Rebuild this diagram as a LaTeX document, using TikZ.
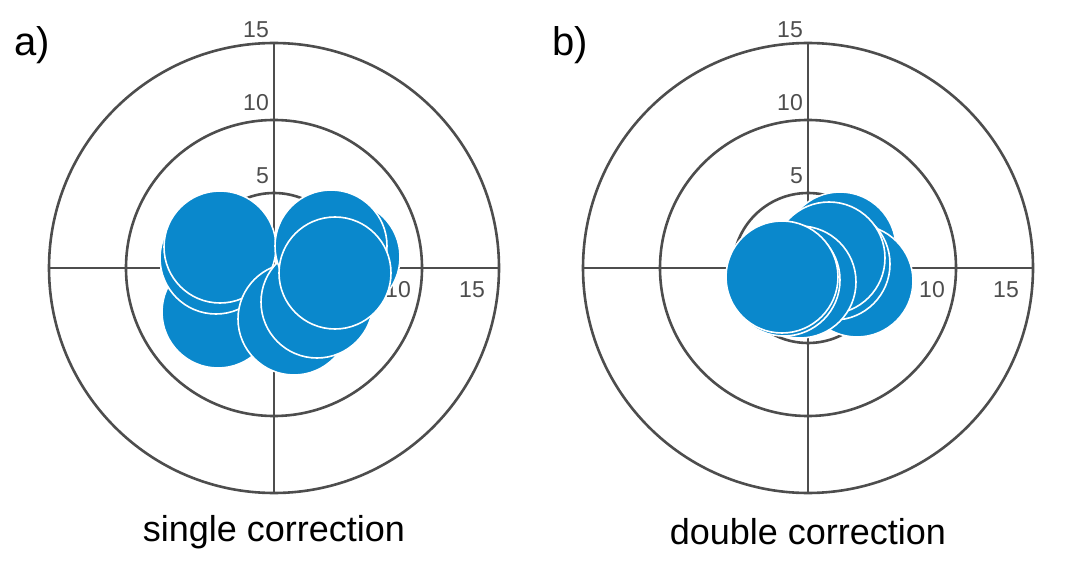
\documentclass[tikz,border=0pt]{standalone}
\usepackage{fontspec}
\setmainfont{Liberation Sans}
\usetikzlibrary{calc}
\definecolor{ax}{HTML}{4D4D4D}
\definecolor{dot}{HTML}{0A88CC}
\begin{document}
\begin{tikzpicture}[x=1pt,y=-1pt,
  ring/.style={draw=ax,line width=2.6pt},
  bub/.style={fill=dot,draw=white,line width=1.6pt},
  tick/.style={text=ax,font=\fontsize{23}{23}\selectfont,inner sep=0pt},
  ttl/.style={font=\fontsize{36}{36}\selectfont,inner sep=0pt}]
\useasboundingbox (0,0) rectangle (1073,561);
\foreach \cx/\nm in {274/L,808/R}{
  \coordinate (\nm c) at (\cx,268);
  \draw[ring] (\nm c) circle (225) (\nm c) circle (148) (\nm c) circle (75);
  \draw[ring] ($(\nm c)+(0,-225)$) -- ($(\nm c)+(0,225)$);
  \draw[ring] ($(\nm c)+(-225,0)$) -- ($(\nm c)+(225,0)$);
  \node[tick,anchor=east] (\nm t15) at ($(\nm c)+(-5,-238)$) {15};
  \node[tick,anchor=east] (\nm t10) at ($(\nm c)+(-5,-165)$) {10};
  \node[tick,anchor=east] (\nm t5) at ($(\nm c)+(-5,-92)$) {5};
  \node[tick] (\nm r15) at ($(\nm c)+(198,22)$) {15};
  \node[tick] (\nm r10) at ($(\nm c)+(124,22)$) {10};
}
% left bubbles
\foreach \x/\y in {218/312,216/258,220/247,294/319,317/302,344/257,331/246,335/273}
  \draw[bub] (\x,\y) circle (56);
% right bubbles
\foreach \x/\y in {840/248,857/281,834/264,829/258,800/282,784/280,782/277}
  \draw[bub] (\x,\y) circle (56);
\node[ttl,font=\fontsize{40}{40}\selectfont] (la) at (32,45) {a)};
\node[ttl,font=\fontsize{40}{40}\selectfont] (lb) at (570,45) {b)};
\node[ttl] (sa) at (274,532) {single correction};
\node[ttl] (sb) at (808,532) {double correction};
\end{tikzpicture}
\end{document}
